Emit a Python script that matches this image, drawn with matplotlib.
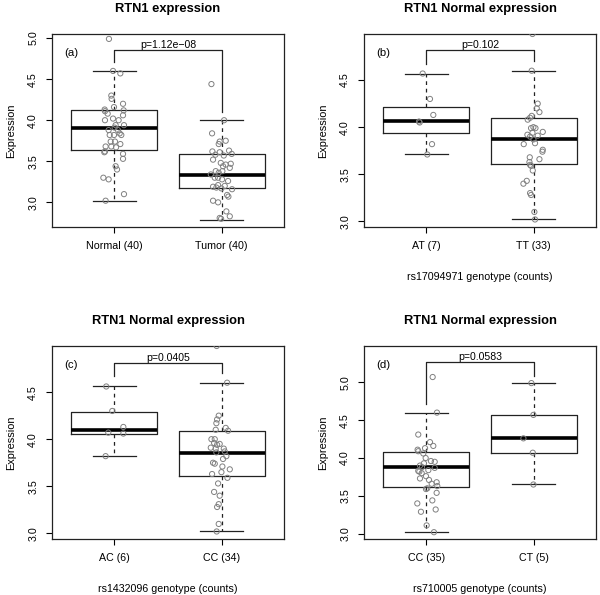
import matplotlib
matplotlib.use("Agg")
import matplotlib.pyplot as plt

plt.rcParams['font.family'] = ['Liberation Sans', 'DejaVu Sans']

# ---- panel (a): Normal vs Tumor
a_groups = ['Normal (40)', 'Tumor (40)']
a_normal = [4.99, 4.60, 4.57, 4.30, 4.26, 4.20, 4.16, 4.13, 4.11, 4.12, 4.08, 4.06, 4.00, 4.00,
            4.02, 3.94, 3.94, 3.91, 3.88, 3.88, 3.82, 3.82, 3.82, 3.84, 3.74, 3.74, 3.71, 3.68,
            3.67, 3.62, 3.61, 3.59, 3.53, 3.44, 3.40, 3.30, 3.28, 3.10, 3.02, 3.68]
a_normal_jit = [-0.050, -0.012, 0.056, -0.028, -0.025, 0.081, -0.003, -0.090, -0.087, 0.087,
                -0.062, 0.081, -0.087, 0.040, -0.012, 0.012, 0.090, 0.003, -0.053, 0.034,
                0.065, -0.003, -0.043, 0.050, -0.034, 0.006, 0.056, -0.081, 0.016, -0.087,
                -0.093, 0.081, 0.081, 0.012, 0.025, -0.102, -0.053, 0.090, -0.081, -0.028]
a_tumor = [4.44, 4.00, 3.84, 3.74, 3.75, 3.71, 3.62, 3.61, 3.63, 3.59, 3.58, 3.57, 3.52, 3.48,
           3.46, 3.47, 3.38, 3.36, 3.38, 3.44, 3.30, 3.30, 3.28, 3.26, 3.21, 3.19, 3.18, 3.20,
           3.16, 3.17, 3.07, 3.09, 3.02, 3.00, 2.89, 2.83, 2.81, 2.80, 3.34, 3.42]
a_tumor_jit = [-0.096, 0.022, -0.090, -0.019, 0.037, -0.028, -0.087, -0.019, 0.068, 0.093,
               -0.059, 0.019, -0.081, -0.009, 0.037, 0.084, -0.056, -0.028, 0.006, 0.012,
               -0.034, -0.065, 0.003, 0.059, -0.034, -0.081, -0.050, 0.028, 0.096, -0.003,
               0.062, 0.050, -0.081, -0.034, 0.043, 0.075, -0.019, -0.006, -0.102, 0.075]
# box stats: whislo, q1, med, q3, whishi
a_stats = [[3.02, 3.64, 3.91, 4.12, 4.60], [2.79, 3.17, 3.33, 3.59, 4.00]]

# ---- panel (b): rs17094971
b_groups = ['AT (7)', 'TT (33)']
b_at = [4.57, 4.30, 4.13, 4.06, 4.05, 3.82, 3.71]
b_at_jit = [-0.034, 0.034, 0.065, -0.068, -0.062, 0.053, 0.009]
b_tt = [4.99, 4.60, 4.25, 4.20, 4.16, 4.12, 4.10, 4.08, 4.00, 3.99, 3.99, 3.95, 3.94, 3.91,
        3.90, 3.87, 3.82, 3.76, 3.74, 3.66, 3.68, 3.63, 3.60, 3.59, 3.54, 3.43, 3.40, 3.30,
        3.28, 3.10, 3.02, 3.83, 3.92]
b_tt_jit = [-0.012, -0.019, 0.037, 0.028, 0.053, -0.019, -0.034, -0.056, -0.003, 0.016,
            -0.025, 0.084, -0.012, 0.037, -0.034, -0.003, -0.093, 0.084, 0.081, 0.053,
            -0.037, -0.040, -0.034, -0.025, -0.009, -0.065, -0.096, -0.034, -0.025, 0.006,
            0.012, 0.012, -0.059]
b_stats = [[3.71, 3.94, 4.07, 4.21, 4.57], [3.02, 3.61, 3.87, 4.10, 4.60]]

# ---- panel (c): rs1432096
c_groups = ['AC (6)', 'CC (34)']
c_ac = [4.56, 4.30, 4.13, 4.07, 4.06, 3.82]
c_ac_jit = [-0.075, -0.019, 0.084, -0.056, 0.084, -0.081]
c_cc = [4.99, 4.60, 4.25, 4.21, 4.17, 4.12, 4.09, 4.10, 4.00, 4.00, 3.96, 3.94, 3.91, 3.90,
        3.90, 3.87, 3.82, 3.75, 3.74, 3.71, 3.68, 3.63, 3.65, 3.59, 3.53, 3.44, 3.40, 3.31,
        3.28, 3.10, 3.02, 3.95, 3.86, 3.79]
c_cc_jit = [-0.047, 0.050, -0.028, -0.043, -0.050, 0.037, 0.059, -0.056, -0.096, -0.065,
            -0.071, -0.043, -0.102, -0.056, 0.019, 0.028, 0.043, -0.081, -0.065, 0.006,
            0.075, -0.090, -0.003, 0.053, -0.034, -0.071, -0.019, -0.028, -0.043, -0.028,
            -0.047, -0.019, -0.050, 0.012]
c_stats = [[3.82, 4.06, 4.10, 4.29, 4.57], [3.02, 3.61, 3.85, 4.09, 4.60]]

# ---- panel (d): rs710005
d_groups = ['CC (35)', 'CT (5)']
d_cc = [5.07, 4.60, 4.31, 4.21, 4.11, 4.13, 4.09, 4.16, 4.00, 3.96, 3.95, 3.90, 3.88, 3.87,
        3.83, 3.82, 3.76, 3.73, 3.71, 3.68, 3.63, 3.60, 3.59, 3.54, 3.44, 3.40, 3.29, 3.32,
        3.11, 3.02, 3.93, 3.84, 3.80, 3.66, 4.06]
d_cc_jit = [0.059, 0.099, -0.075, 0.034, -0.081, -0.012, -0.075, 0.065, -0.006, 0.043,
            0.078, -0.059, -0.040, 0.078, -0.075, -0.065, -0.003, -0.059, 0.025, 0.096,
            0.102, 0.009, -0.003, 0.096, 0.056, -0.084, -0.050, 0.087, 0.003, 0.071,
            -0.022, 0.019, -0.043, 0.050, -0.028]
d_ct = [4.99, 4.57, 4.26, 4.07, 3.65]
d_ct_jit = [-0.022, -0.003, -0.096, -0.009, -0.003]
d_stats = [[3.02, 3.62, 3.88, 4.08, 4.60], [3.66, 4.06, 4.26, 4.57, 4.99]]

pvals = ['p=1.12e\u221208', 'p=0.102', 'p=0.0405', 'p=0.0583']
# bracket: top, left leg end, right leg end
brackets = [[4.85, 4.71, 4.10], [4.82, 4.67, 4.70], [4.81, 4.67, 4.70], [5.27, 4.72, 5.09]]
ylims = [(2.70, 5.05), (2.94, 4.99), (2.94, 4.99), (2.93, 5.48)]
yticks = [[3.0, 3.5, 4.0, 4.5, 5.0], [3.0, 3.5, 4.0, 4.5], [3.0, 3.5, 4.0, 4.5],
          [3.0, 3.5, 4.0, 4.5, 5.0]]
titles = ['RTN1 expression', 'RTN1 Normal expression', 'RTN1 Normal expression',
          'RTN1 Normal expression']
xlabels = ['', 'rs17094971 genotype (counts)', 'rs1432096 genotype (counts)',
           'rs710005 genotype (counts)']
tags = ['(a)', '(b)', '(c)', '(d)']


def draw_panel(ax, groups, data, jit, stats, ylim, ticks, br, pval, tag, title, xlabel):
    bstats = []
    for s in stats:
        bstats.append({'whislo': s[0], 'q1': s[1], 'med': s[2], 'q3': s[3],
                       'whishi': s[4], 'fliers': []})
    ax.bxp(bstats, positions=[1, 2], widths=0.8, capwidths=0.4, showfliers=False,
           boxprops=dict(color='#222222', lw=0.9),
           whiskerprops=dict(color='#222222', lw=0.9, linestyle=(0, (3, 3))),
           capprops=dict(color='#222222', lw=0.9),
           medianprops=dict(color='black', lw=2.6))
    for i in range(2):
        xs = [i + 1 + j for j in jit[i]]
        ax.scatter(xs, data[i], s=14, facecolors='none', edgecolors='#808080',
                   linewidths=0.7, zorder=3)

    ax.plot([1, 1, 2, 2], [br[1], br[0], br[0], br[2]], color='#222222', lw=0.9)
    ax.annotate(pval, (1.5, br[0]), xytext=(0, 1.5), textcoords='offset points',
                ha='center', va='baseline', fontsize=7.6)
    ax.text(0.083, 0.90, tag, transform=ax.transAxes, ha='center', va='center',
            fontsize=8.2)

    ax.set_xlim(0.42, 2.58)
    ax.set_ylim(*ylim)
    ax.set_xticks([1, 2], labels=groups)
    ax.set_yticks(ticks, labels=['%.1f' % t for t in ticks])
    plt.setp(ax.get_yticklabels(), rotation=90, va='center')
    ax.tick_params(axis='both', labelsize=7.7, length=4, width=0.8, pad=6)
    for sp in ax.spines.values():
        sp.set_linewidth(0.9)
        sp.set_color('#222222')
    ax.set_ylabel('Expression', fontsize=7.9, labelpad=9)
    if xlabel:
        ax.set_xlabel(xlabel, fontsize=7.7, labelpad=15)
    ax.set_title(title, fontsize=9.3, fontweight='bold', pad=15.5)


fig = plt.figure(figsize=(6, 5.95), dpi=100)
w, h = 0.3867, 0.3244
ax_a = fig.add_axes([0.0867, 0.6185, w, h])
ax_b = fig.add_axes([0.6067, 0.6185, w, h])
ax_c = fig.add_axes([0.0867, 0.0941, w, h])
ax_d = fig.add_axes([0.6067, 0.0941, w, h])

draw_panel(ax_a, a_groups, [a_normal, a_tumor], [a_normal_jit, a_tumor_jit], a_stats,
           ylims[0], yticks[0], brackets[0], pvals[0], tags[0], titles[0], xlabels[0])
draw_panel(ax_b, b_groups, [b_at, b_tt], [b_at_jit, b_tt_jit], b_stats,
           ylims[1], yticks[1], brackets[1], pvals[1], tags[1], titles[1], xlabels[1])
draw_panel(ax_c, c_groups, [c_ac, c_cc], [c_ac_jit, c_cc_jit], c_stats,
           ylims[2], yticks[2], brackets[2], pvals[2], tags[2], titles[2], xlabels[2])
draw_panel(ax_d, d_groups, [d_cc, d_ct], [d_cc_jit, d_ct_jit], d_stats,
           ylims[3], yticks[3], brackets[3], pvals[3], tags[3], titles[3], xlabels[3])

fig.savefig('out.png', dpi=100)
